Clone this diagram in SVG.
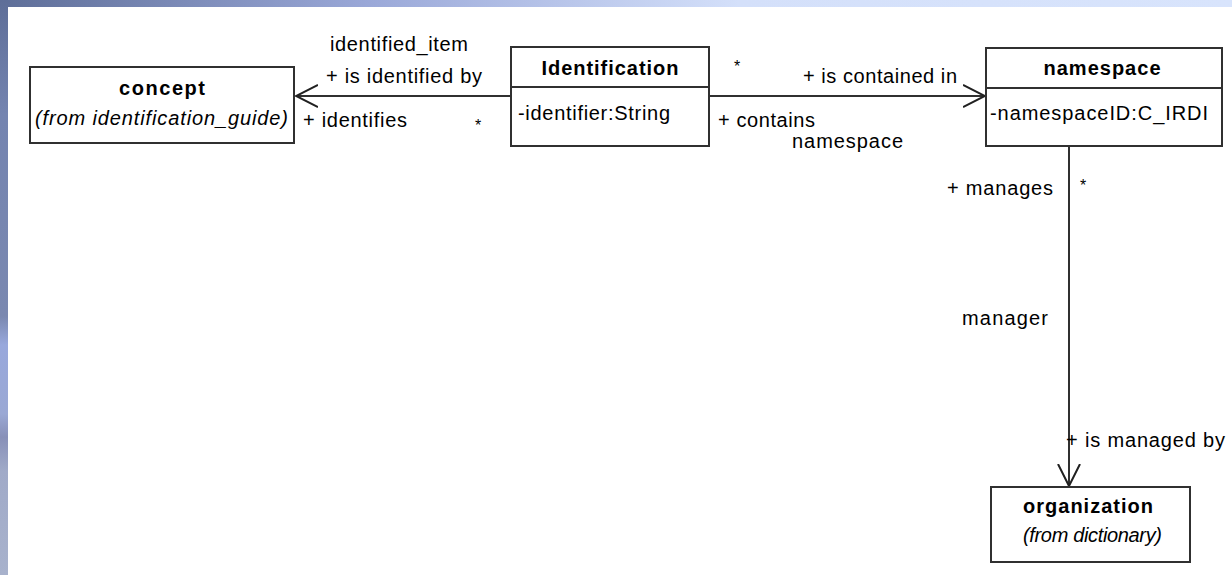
<svg xmlns="http://www.w3.org/2000/svg" width="1232" height="575" viewBox="0 0 1232 575">
<defs>
<linearGradient id="topband" x1="0" y1="0" x2="1" y2="0">
<stop offset="0" stop-color="#5e6e98"/>
<stop offset="0.3" stop-color="#9aa8d8"/>
<stop offset="0.6" stop-color="#d4e0fa"/>
<stop offset="1" stop-color="#d8e4fc"/>
</linearGradient>
<linearGradient id="leftband" x1="0" y1="0" x2="0" y2="1">
<stop offset="0" stop-color="#5e6e98"/>
<stop offset="0.2" stop-color="#7484b0"/>
<stop offset="0.55" stop-color="#7a88b0"/>
<stop offset="0.6" stop-color="#98a8dc"/>
<stop offset="0.72" stop-color="#9aa8d4"/>
<stop offset="0.76" stop-color="#8890b8"/>
<stop offset="0.82" stop-color="#a0aac8"/>
<stop offset="1" stop-color="#a8b2cc"/>
</linearGradient>
<marker id="open" viewBox="0 0 24 24" refX="22" refY="12" markerWidth="24" markerHeight="24" markerUnits="userSpaceOnUse" orient="auto">
<path d="M0,1 L22,12 L0,23" fill="none" stroke="#202020" stroke-width="2"/>
</marker>
</defs>
<style>
.box{fill:#fff;stroke:#303030;stroke-width:2}
.edge{fill:none;stroke:#303030;stroke-width:2}
text{font-family:"Liberation Sans",Arial,sans-serif;font-size:20px;fill:#000}
.t{font-weight:bold;text-anchor:middle}
.i{font-style:italic}
.star{font-size:16px}
</style>
<rect x="0" y="0" width="1232" height="575" fill="#fff"/>
<rect x="0" y="0" width="1232" height="7" fill="url(#topband)"/>
<rect x="0" y="0" width="8" height="575" fill="url(#leftband)"/>

<g id="connectors">
<line class="edge" x1="511" y1="96" x2="296" y2="96" marker-end="url(#open)"/>
<line class="edge" x1="709" y1="96" x2="985" y2="96" marker-end="url(#open)"/>
<line class="edge" x1="1069" y1="146" x2="1069" y2="486" marker-end="url(#open)"/>
<text x="330" y="51" textLength="138">identified_item</text>
<text x="326" y="83" textLength="156">+ is identified by</text>
<text x="303" y="127" textLength="104">+ identifies</text>
<text class="star" x="475" y="131">*</text>
<text class="star" x="734" y="72">*</text>
<text x="803" y="83" textLength="154">+ is contained in</text>
<text x="718" y="127" textLength="97">+ contains</text>
<text x="792" y="148" textLength="111">namespace</text>
<text x="947" y="195" textLength="106">+ manages</text>
<text class="star" x="1080" y="191">*</text>
<text x="962" y="325" textLength="86">manager</text>
<text x="1066" y="447" textLength="159">+ is managed by</text>
</g>

<g id="concept">
<rect class="box" x="30" y="67" width="264" height="76"/>
<text class="t" x="162" y="95" textLength="86">concept</text>
<text class="i" x="35" y="125" textLength="253">(from identification_guide)</text>
</g>

<g id="identification">
<rect class="box" x="511" y="47" width="198" height="99"/>
<line class="edge" x1="511" y1="87" x2="709" y2="87"/>
<text class="t" x="610" y="75" textLength="137">Identification</text>
<text x="518" y="120" textLength="152">-identifier:String</text>
</g>

<g id="namespace">
<rect class="box" x="986" y="48" width="236" height="98"/>
<line class="edge" x1="986" y1="88" x2="1222" y2="88"/>
<text class="t" x="1102" y="75" textLength="117">namespace</text>
<text x="990" y="120" textLength="218">-namespaceID:C_IRDI</text>
</g>

<g id="organization">
<rect class="box" x="991" y="487" width="199" height="75"/>
<text class="t" x="1088" y="513" textLength="130">organization</text>
<text class="i" x="1023" y="542" textLength="139">(from dictionary)</text>
</g>
</svg>
